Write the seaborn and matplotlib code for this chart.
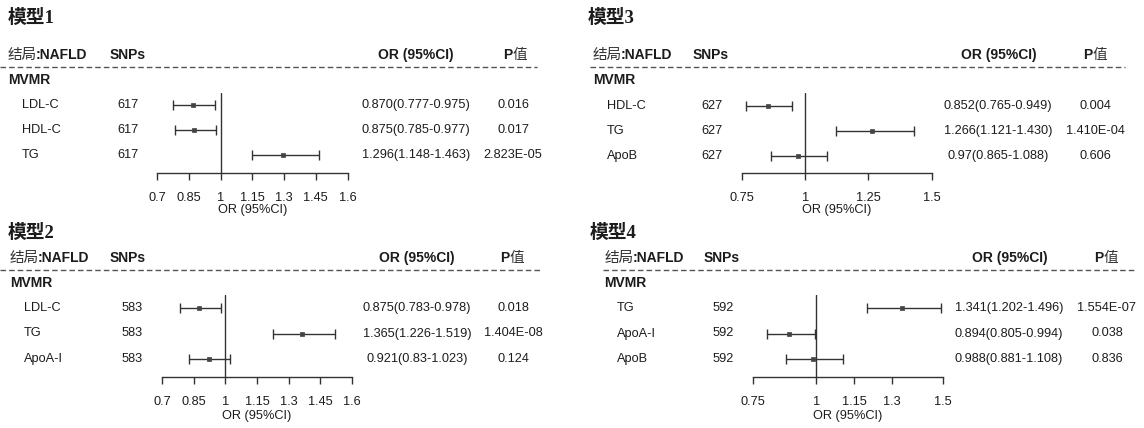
import re
import matplotlib
matplotlib.use("Agg")
import matplotlib.pyplot as plt
from matplotlib.offsetbox import TextArea, HPacker, AnnotationBbox
import pandas as pd
import seaborn as sns

# ---------------- data ----------------
m1_exposure = ["LDL-C", "HDL-C", "TG"]
m1_snps = [617, 617, 617]
m1_or_ci = ["0.870(0.777-0.975)", "0.875(0.785-0.977)", "1.296(1.148-1.463)"]
m1_p = ["0.016", "0.017", "2.823E-05"]
m1_ticks = [0.7, 0.85, 1, 1.15, 1.3, 1.45, 1.6]

m2_exposure = ["LDL-C", "TG", "ApoA-I"]
m2_snps = [583, 583, 583]
m2_or_ci = ["0.875(0.783-0.978)", "1.365(1.226-1.519)", "0.921(0.83-1.023)"]
m2_p = ["0.018", "1.404E-08", "0.124"]
m2_ticks = [0.7, 0.85, 1, 1.15, 1.3, 1.45, 1.6]

m3_exposure = ["HDL-C", "TG", "ApoB"]
m3_snps = [627, 627, 627]
m3_or_ci = ["0.852(0.765-0.949)", "1.266(1.121-1.430)", "0.97(0.865-1.088)"]
m3_p = ["0.004", "1.410E-04", "0.606"]
m3_ticks = [0.75, 1, 1.25, 1.5]

m4_exposure = ["TG", "ApoA-I", "ApoB"]
m4_snps = [592, 592, 592]
m4_or_ci = ["1.341(1.202-1.496)", "0.894(0.805-0.994)", "0.988(0.881-1.108)"]
m4_p = ["1.554E-07", "0.038", "0.836"]
m4_ticks = [0.75, 1, 1.15, 1.3, 1.5]

titles = ["模型1", "模型2", "模型3", "模型4"]
outcome_label = ("结局", ":NAFLD")
group_label = "MVMR"
col_snps = "SNPs"
col_or = "OR (95%CI)"
col_p = ("P", "值")
axis_label = "OR (95%CI)"

# ---------------- style ----------------
sns.set_theme(style="white")
LATIN = "Liberation Sans"
CJK = "Noto Sans CJK SC"
plt.rcParams["font.family"] = [LATIN, CJK, "DejaVu Sans"]
INK = "#1c1c1c"
LINE = "#333333"
W, H = 1144, 428

# panel geometry in pixels
layouts = [
    dict(title=(8, 18), hdr_y=55, hdr_x=8, snp_hdr_x=110, or_hdr_cx=416, p_hdr_cx=515,
         dash=(0, 537, 67), mvmr=(8, 80), rows=(105, 25), label_x=22, snp_x=117,
         or_cx=416, p_cx=513, axes=(157, 347.5, 93, 173), xlabel_y=210),
    dict(title=(8, 233), hdr_y=258, hdr_x=10, snp_hdr_x=110, or_hdr_cx=417, p_hdr_cx=512,
         dash=(0, 542, 270), mvmr=(10, 283), rows=(308, 25.5), label_x=24, snp_x=122,
         or_cx=417, p_cx=513, axes=(162, 352, 295, 377), xlabel_y=416),
    dict(title=(588, 18), hdr_y=55, hdr_x=593, snp_hdr_x=693, or_hdr_cx=999, p_hdr_cx=1095,
         dash=(590, 1125, 67), mvmr=(593, 80), rows=(106, 25), label_x=607, snp_x=701,
         or_cx=998, p_cx=1095, axes=(742, 931.5, 93, 173), xlabel_y=210),
    dict(title=(590, 233), hdr_y=258, hdr_x=605, snp_hdr_x=704, or_hdr_cx=1010, p_hdr_cx=1106,
         dash=(603, 1135, 270), mvmr=(604, 283), rows=(308, 25.5), label_x=617, snp_x=713,
         or_cx=1009, p_cx=1107, axes=(753, 942.5, 295, 377), xlabel_y=416),
]

models = [
    (m1_exposure, m1_snps, m1_or_ci, m1_p, m1_ticks),
    (m2_exposure, m2_snps, m2_or_ci, m2_p, m2_ticks),
    (m3_exposure, m3_snps, m3_or_ci, m3_p, m3_ticks),
    (m4_exposure, m4_snps, m4_or_ci, m4_p, m4_ticks),
]


def parse_or(text):
    est, lo, hi = re.match(r"([\d.]+)\(([\d.]+)-([\d.]+)\)", text).groups()
    return float(est), float(lo), float(hi)


def rich_text(ax, x, y, parts, halign=0.0, sep=0.0):
    boxes = [TextArea(s, textprops=props) for s, props in parts]
    pack = HPacker(children=boxes, align="baseline", pad=0, sep=sep)
    ab = AnnotationBbox(pack, (x, y), xycoords="data", box_alignment=(halign, 0.5),
                        frameon=False, pad=0)
    ax.add_artist(ab)


fig = plt.figure(figsize=(W / 100, H / 100), dpi=100)
fig.patch.set_facecolor("white")

bg = fig.add_axes([0, 0, 1, 1], zorder=0)
bg.set_xlim(0, W)
bg.set_ylim(H, 0)
bg.axis("off")

latin_b = dict(family=LATIN, fontweight="bold", fontsize=10, color=INK)
cjk_r = dict(family=CJK, fontweight="normal", fontsize=10.5, color="#333333")
body = dict(fontsize=9.2, color=INK, va="center")

for title, (expo, snps, or_ci, pvals, ticks), lay in zip(titles, models, layouts):
    # panel title
    bg.text(lay["title"][0], lay["title"][1], title, family=["Liberation Serif", CJK],
            fontweight="bold", fontsize=13.5, color=INK, ha="left", va="center")

    # column headers
    rich_text(bg, lay["hdr_x"], lay["hdr_y"],
              [(outcome_label[0], cjk_r), (outcome_label[1], latin_b)], halign=0.0, sep=-1.5)
    bg.text(lay["snp_hdr_x"], lay["hdr_y"], col_snps, ha="left", va="center", **latin_b)
    bg.text(lay["or_hdr_cx"], lay["hdr_y"], col_or, ha="center", va="center", **latin_b)
    rich_text(bg, lay["p_hdr_cx"], lay["hdr_y"],
              [(col_p[0], latin_b), (col_p[1], cjk_r)], halign=0.5)

    # dashed separator under the header
    x0, x1, yd = lay["dash"]
    bg.plot([x0, x1], [yd, yd], color="#555555", lw=1.0, linestyle=(0, (4, 2.2)))

    bg.text(lay["mvmr"][0], lay["mvmr"][1], group_label, ha="left", va="center", **latin_b)

    # table rows
    r0, step = lay["rows"]
    for i in range(len(expo)):
        y = r0 + i * step
        bg.text(lay["label_x"], y, expo[i], ha="left", **body)
        bg.text(lay["snp_x"], y, str(snps[i]), ha="left", **body)
        bg.text(lay["or_cx"], y, or_ci[i], ha="center", **body)
        bg.text(lay["p_cx"], y, pvals[i], ha="center", **body)

    # forest plot
    est, lo, hi = zip(*[parse_or(t) for t in or_ci])
    df = pd.DataFrame({"exposure": expo, "est": est, "lo": lo, "hi": hi,
                       "row": range(len(expo))})

    ax0, ax1, ay0, ay1 = lay["axes"]
    ax = fig.add_axes([ax0 / W, 1 - ay1 / H, (ax1 - ax0) / W, (ay1 - ay0) / H], zorder=2)
    ax.set_facecolor("none")

    ax.errorbar(df["est"], df["row"], xerr=[df["est"] - df["lo"], df["hi"] - df["est"]],
                fmt="none", ecolor=LINE, elinewidth=1.0, capsize=3.5, capthick=1.0, zorder=2)
    sns.scatterplot(data=df, x="est", y="row", marker="s", s=9, color="#444444",
                    edgecolor="#444444", linewidth=0.5, legend=False, ax=ax, zorder=3)
    ax.axvline(1, color=LINE, lw=1.0, zorder=1)

    ax.set_xlim(ticks[0], ticks[-1])
    ax.set_ylim((ay1 - r0) / step, (ay0 - r0) / step)
    ax.set_xticks(ticks)
    ax.set_xticklabels([f"{t:g}" for t in ticks])
    ax.set_yticks([])
    ax.set_xlabel("")
    ax.set_ylabel("")
    for side in ["left", "right", "top"]:
        ax.spines[side].set_visible(False)
    ax.spines["bottom"].set_color(LINE)
    ax.spines["bottom"].set_linewidth(1.0)
    ax.tick_params(axis="x", direction="out", length=5, width=1.0, color=LINE,
                   pad=8.5, labelsize=9.2, labelcolor=INK, bottom=True)

    bg.text((ax0 + ax1) / 2, lay["xlabel_y"], axis_label, ha="center", **body)

fig.savefig("out.png", dpi=100, facecolor="white")
